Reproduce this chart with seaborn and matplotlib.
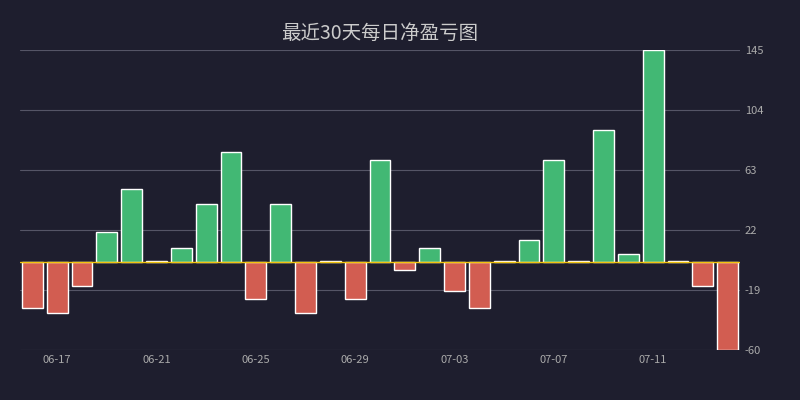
import numpy as np
import pandas as pd
import matplotlib
matplotlib.use('Agg')
import matplotlib.pyplot as plt
import seaborn as sns

dates = pd.date_range('2024-06-16', '2024-07-14').strftime('%m-%d').tolist()
pnl = [-31, -35, -16, 20.5, 50, 0.5, 10, 40, 75, -25, 40, -35, 0.5, -25, 70,
       -5, 10, -20, -31, 0.5, 15, 70, 0.5, 90, 5.5, 145, 0.5, -16, -60]

bg = '#1e1e2e'
sns.set_style('dark')
plt.rcParams['font.family'] = ['Noto Sans CJK SC', 'DejaVu Sans']

df = pd.DataFrame({'date': dates, 'pnl': pnl})
df['sign'] = np.where(df['pnl'] >= 0, 'pos', 'neg')

fig = plt.figure(figsize=(8, 4), dpi=100, facecolor=bg)
ax = fig.add_axes([0.025, 0.125, 0.9, 0.75], facecolor=bg)
sns.barplot(data=df, x='date', y='pnl', hue='sign', dodge=False, width=0.84,
            palette={'pos': '#2ecc71', 'neg': '#e74c3c'}, legend=False, ax=ax)
ax.axhline(0, color='#f1c40f', lw=1, zorder=3)

ticks = np.linspace(-60, 145, 6)
ax.set_ylim(-60, 145)
ax.set_yticks(ticks)
ax.set_yticklabels([f'{t:.0f}' for t in ticks])
ax.yaxis.tick_right()
ax.grid(axis='y', color='#555566', lw=0.8)
ax.set_axisbelow(True)
ax.set_xlim(-0.5, len(dates) - 0.5)
ax.set_xticks(range(1, len(dates), 4))
ax.set_xticklabels(dates[1::4])
ax.tick_params(colors='#aaaaaa', labelsize=8, length=0)
ax.set_xlabel('')
ax.set_ylabel('')
for s in ax.spines.values():
    s.set_visible(False)
ax.set_title('最近30天每日净盈亏图', color='#cccccc', fontsize=14, pad=8)
fig.savefig('out.png', facecolor=bg)
